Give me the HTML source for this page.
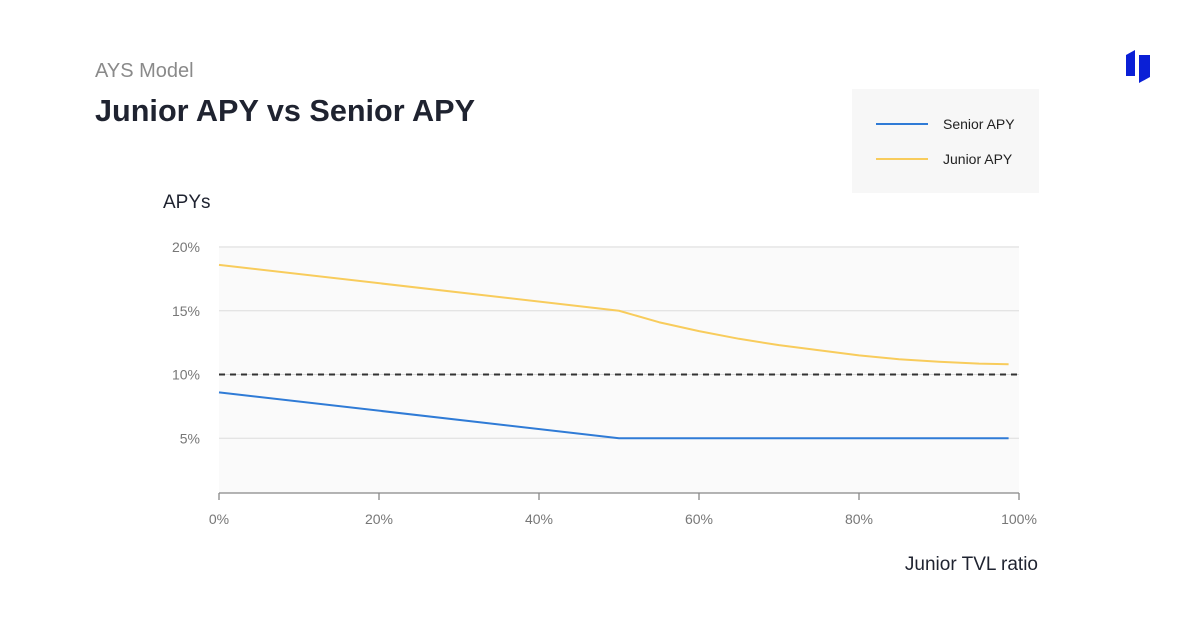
<!DOCTYPE html>
<html><head><meta charset="utf-8"><style>
body{margin:0;width:1200px;height:630px;background:#fff;font-family:"Liberation Sans",sans-serif;overflow:hidden}
</style></head><body>
<svg width="1200" height="630">
<text x="95" y="77" font-size="20" fill="#8a8a8a">AYS Model</text>
<text x="95" y="121" font-size="31" font-weight="bold" fill="#1f2330" textLength="380" lengthAdjust="spacingAndGlyphs">Junior APY vs Senior APY</text>
<g>
<polygon points="1126,55 1135,50 1135,76 1126,76" fill="#0a1fd6"/>
<polygon points="1139,55 1150,55 1150,77 1139,83" fill="#0a1fd6"/>
</g>
<g>
<rect x="852" y="89" width="187" height="104" fill="#f7f7f7"/>
<line x1="876" y1="124" x2="928" y2="124" stroke="#2f7bd6" stroke-width="2"/>
<text x="943" y="129" font-size="14" fill="#222">Senior APY</text>
<line x1="876" y1="159" x2="928" y2="159" stroke="#f8cc5c" stroke-width="2"/>
<text x="943" y="164" font-size="14" fill="#222">Junior APY</text>
</g>
<text x="163" y="208" font-size="19" fill="#1f2330">APYs</text>
<text x="1038" y="570" font-size="19" fill="#1f2330" text-anchor="end">Junior TVL ratio</text>
<rect x="219" y="246" width="800" height="247" fill="#fafafa"/>
<g id="grid"></g><g id="marks"></g><g id="axes"></g>
</svg>
<script>
const yTicks=[5,10,15,20];
const xTicks=[0,20,40,60,80,100];
const ratios=[0,50,55,60,65,70,75,80,85,90,95,98.7];
const junior=[18.6,15.0,14.1,13.4,12.8,12.3,11.9,11.5,11.2,11.0,10.85,10.8];
const senior=[8.6,5.0,5.0,5.0,5.0,5.0,5.0,5.0,5.0,5.0,5.0,5.0];
const threshold=10;
const NS="http://www.w3.org/2000/svg";
const X=v=>219+v*8;
const Y=v=>502-v*12.75;
function mk(t,a,p){const e=document.createElementNS(NS,t);for(const k in a)e.setAttribute(k,a[k]);p.appendChild(e);return e;}
const grid=document.getElementById('grid'),marks=document.getElementById('marks'),axes=document.getElementById('axes');
yTicks.forEach(v=>{
 const l=mk('line',{x1:219,x2:1019,y1:Y(v),y2:Y(v),stroke:'#dcdcdc','stroke-width':1},grid);
 
 
 const t=mk('text',{x:200,y:Y(v)+5,'font-size':14,fill:'#777','text-anchor':'end'},axes);
 t.textContent=v+'%';
 
 
});
const ax=mk('line',{x1:219,x2:1019,y1:493,y2:493,stroke:'#888','stroke-width':1.3},axes);


xTicks.forEach(v=>{
 mk('line',{x1:X(v),x2:X(v),y1:493,y2:500,stroke:'#888','stroke-width':1.3},axes);
 const t=mk('text',{x:X(v),y:524,'font-size':14,fill:'#777','text-anchor':'middle'},axes);
 t.textContent=v+'%';
 
 
});
const d=mk('line',{x1:219,x2:1019,y1:Y(threshold),y2:Y(threshold),stroke:'#333','stroke-width':2,'stroke-dasharray':'6,5'},marks);


function path(vals){return ratios.map((r,i)=>(i?'L':'M')+X(r)+','+Y(vals[i])).join(' ');}
const pj=mk('path',{d:path(junior),fill:'none',stroke:'#f8cc5c','stroke-width':2,'stroke-linejoin':'round'},marks);


const ps=mk('path',{d:path(senior),fill:'none',stroke:'#2f7bd6','stroke-width':2},marks);


</script>
</body></html>
